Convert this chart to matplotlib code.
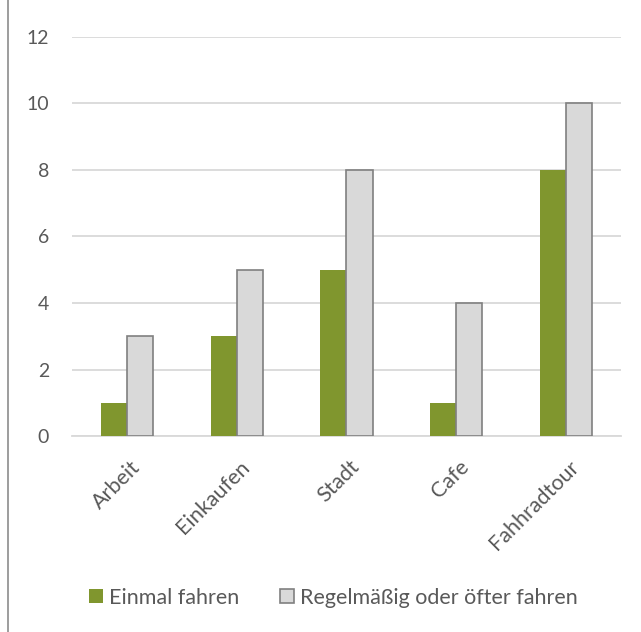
import numpy as np
import matplotlib.pyplot as plt
import matplotlib.transforms as mtransforms
from matplotlib.patches import Rectangle

plt.rcParams['font.family'] = ['Lato', 'DejaVu Sans']

categories = ["Arbeit", "Einkaufen", "Stadt", "Cafe", "Fahhradtour"]
einmal = [1, 3, 5, 1, 8]
regelmaessig = [3, 5, 8, 4, 10]
yticks = [0, 2, 4, 6, 8, 10, 12]

green = "#80962e"
grey_fill = "#d9d9d9"
grey_edge = "#808080"
text_col = "#595959"

fig = plt.figure(figsize=(6.41, 6.32), dpi=100)
ax = fig.add_axes([0.1123, 0.3101, 0.8565, 0.6314])

x = np.arange(len(categories))
w = 0.237
ax.bar(x - w / 2, einmal, w, color=green, label="Einmal fahren", zorder=3)
ax.bar(x + w / 2, regelmaessig, w, color=grey_fill, edgecolor=grey_edge,
       linewidth=1.2, label="Regelmäßig oder öfter fahren", zorder=3)

ax.set_xlim(-0.5, len(categories) - 0.5)
ax.set_ylim(0, 12)
ax.set_yticks(yticks)
ax.set_yticklabels([str(t) for t in yticks])
ax.grid(axis="y", color="#d9d9d9", linewidth=1.3, zorder=0)
for s in ["top", "right", "left"]:
    ax.spines[s].set_visible(False)
ax.spines["bottom"].set_color("#d9d9d9")
ax.spines["bottom"].set_linewidth(1.3)
ax.tick_params(axis="both", length=0, colors=text_col)
ax.tick_params(axis="y", pad=16.5, labelsize=14)
ax.tick_params(axis="x", pad=15, labelsize=15.5)
ax.set_xticks(x)
ax.set_xticklabels(categories, rotation=45, ha="right", va="top", rotation_mode="anchor")
shift = mtransforms.ScaledTranslation(3 / 100, 0, fig.dpi_scale_trans)
for lab in ax.get_xticklabels():
    lab.set_transform(lab.get_transform() + shift)

leg = fig.legend(loc="center", bbox_to_anchor=(0.52, 0.054), ncol=2, frameon=False,
                 fontsize=15.5, handlelength=0.65, handleheight=0.65, handletextpad=0.28,
                 columnspacing=1.86, labelcolor=text_col, borderaxespad=0, borderpad=0)

# outer frame (only left and top edges are inside the picture)
fig.patches.append(Rectangle((8 / 641, -0.2), 1.2, 1.2 + (1 - 7 / 632), transform=fig.transFigure,
                             fill=False, edgecolor="#8c8c8c", linewidth=1.2))

fig.savefig("out.png", dpi=100)
